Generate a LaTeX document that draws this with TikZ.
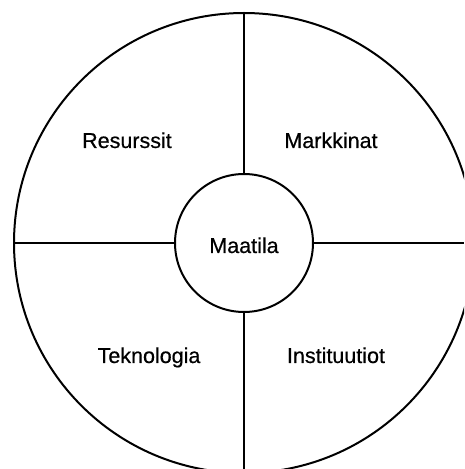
\documentclass[tikz,border=0pt]{standalone}
\usepackage{fontspec}
\setmainfont{Liberation Sans}
\newfontfamily\lblfont{Liberation Sans}[FakeBold=0.5]
\begin{document}
\begin{tikzpicture}[x=1pt,y=1pt,
  ring/.style={draw=black,line width=2pt},
  lbl/.style={font=\lblfont\fontsize{21.5}{26}\selectfont,anchor=base,inner sep=0pt}]
\useasboundingbox (0,0) rectangle (464,469);
\clip (0,0) rectangle (464,469);
\coordinate (c) at (244,226);
\node[circle,minimum size=460pt,inner sep=0pt,ring] (outer) at (c) {};
\node[circle,minimum size=138pt,inner sep=0pt,ring] (inner) at (244,226) {};
\coordinate (topend) at (243.5,456);
\coordinate (botend) at (243.5,0);
\coordinate (leftend) at (14,226);
\coordinate (rightend) at (464,226);
\draw[ring] (inner.north -| topend) -- (topend);
\draw[ring] (inner.south -| botend) -- (botend);
\draw[ring] (inner.west |- leftend) -- (leftend);
\draw[ring] (inner.east |- rightend) -- (rightend);
\node[lbl] (res) at (127,321) {Resurssit};
\node[lbl] (mar) at (331,321) {Markkinat};
\node[lbl] (maa) at (244,216) {Maatila};
\node[lbl] (tek) at (149,106) {Teknologia};
\node[lbl] (ins) at (336,106) {Instituutiot};
\end{tikzpicture}
\end{document}
